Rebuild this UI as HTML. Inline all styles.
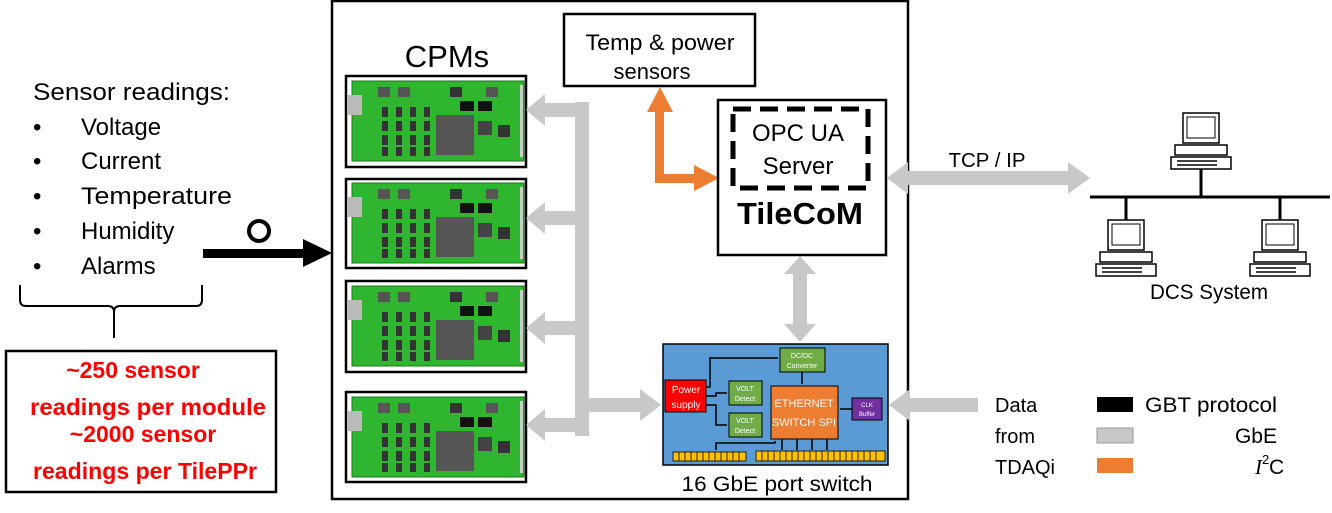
<!DOCTYPE html>
<html><head><meta charset="utf-8"><style>
body{margin:0;background:#fff}
svg{display:block;font-family:"Liberation Sans",sans-serif}
</style></head><body>
<svg width="1332" height="513" viewBox="0 0 1332 513" xmlns="http://www.w3.org/2000/svg">
<defs>
<g id="board">
<rect x="0" y="0" width="172" height="80" fill="#2fb52f" stroke="#1a7a1a" stroke-width="1"/>
<rect x="-4" y="14" width="14" height="20" fill="#bbb"/>
<rect x="26" y="6" width="12" height="10" fill="#555"/><rect x="46" y="6" width="12" height="10" fill="#555"/>
<rect x="98" y="6" width="12" height="10" fill="#333"/><rect x="134" y="6" width="12" height="10" fill="#555"/>
<rect x="108" y="20" width="14" height="10" fill="#111"/><rect x="126" y="20" width="14" height="10" fill="#111"/>
<g fill="#333"><rect x="30" y="26" width="6" height="10"/><rect x="44" y="26" width="6" height="10"/><rect x="58" y="26" width="6" height="10"/><rect x="72" y="26" width="6" height="10"/>
<rect x="30" y="40" width="6" height="10"/><rect x="44" y="40" width="6" height="10"/><rect x="58" y="40" width="6" height="10"/><rect x="72" y="40" width="6" height="10"/>
<rect x="30" y="54" width="6" height="10"/><rect x="44" y="54" width="6" height="10"/><rect x="58" y="54" width="6" height="10"/><rect x="72" y="54" width="6" height="10"/>
<rect x="30" y="66" width="6" height="9"/><rect x="44" y="66" width="6" height="9"/><rect x="58" y="66" width="6" height="9"/><rect x="72" y="66" width="6" height="9"/></g>
<rect x="84" y="34" width="38" height="40" fill="#555"/>
<rect x="126" y="40" width="14" height="14" fill="#444"/><rect x="146" y="44" width="12" height="12" fill="#333"/>
<rect x="168" y="4" width="3" height="72" fill="#ccc"/>
</g>
<g id="pc">
<rect x="12" y="0" width="36" height="30" fill="#fff" stroke="#000" stroke-width="1.5"/>
<rect x="16" y="4" width="28" height="21" fill="#fff" stroke="#000"/>
<rect x="4" y="32" width="52" height="10" fill="#fff" stroke="#000" stroke-width="1.5"/>
<rect x="0" y="44" width="60" height="12" fill="#fff" stroke="#000" stroke-width="1.5"/>
<line x1="6" y1="48" x2="46" y2="48" stroke="#000" stroke-width="1.5"/><line x1="6" y1="52" x2="46" y2="52" stroke="#000" stroke-width="1.5"/>
</g>
</defs>

<g font-size="24" fill="#000">
<text x="33" y="100" textLength="197" lengthAdjust="spacingAndGlyphs">Sensor readings:</text>
<text x="33" y="135">•</text><text x="81" y="135">Voltage</text>
<text x="33" y="169">•</text><text x="81" y="169">Current</text>
<text x="33" y="204">•</text><text x="81" y="204" textLength="151" lengthAdjust="spacingAndGlyphs">Temperature</text>
<text x="33" y="239">•</text><text x="81" y="239">Humidity</text>
<text x="33" y="274">•</text><text x="81" y="274">Alarms</text>
</g>
<path d="M20,285 L20,300 Q20,306 26,306 L108,306 Q114,306 114,312 L114,338 M114,312 Q114,306 120,306 L196,306 Q202,306 202,300 L202,285" fill="none" stroke="#000" stroke-width="2"/>
<rect x="6" y="351" width="270" height="141" fill="#fff" stroke="#000" stroke-width="2.5"/>
<g font-size="23" font-weight="bold" fill="#f00" text-anchor="middle">
<text x="133" y="378">~250 sensor</text>
<text x="148" y="415" textLength="236" lengthAdjust="spacingAndGlyphs">readings per module</text>
<text x="143" y="442">~2000 sensor</text>
<text x="145" y="479" textLength="224" lengthAdjust="spacingAndGlyphs">readings per TilePPr</text>
</g>
<rect x="203" y="249" width="102" height="9" fill="#000"/>
<polygon points="303,239 332,253 303,267" fill="#000"/>
<circle cx="259" cy="231" r="10" fill="none" stroke="#000" stroke-width="4"/>

<rect x="332" y="1" width="576" height="498" fill="none" stroke="#000" stroke-width="2.5"/>
<text x="447" y="67" font-size="31" text-anchor="middle">CPMs</text>
<g fill="#fff" stroke="#000" stroke-width="2.5">
<rect x="346" y="76" width="180" height="91"/><rect x="346" y="179" width="180" height="89"/>
<rect x="346" y="281" width="180" height="91"/><rect x="346" y="392" width="180" height="90"/>
</g>
<use href="#board" x="352" y="81"/><use href="#board" x="352" y="183"/>
<use href="#board" x="352" y="286"/><use href="#board" x="352" y="397"/>

<g fill="#c8c8c8">
<rect x="575" y="102" width="14" height="334"/>
<rect x="544" y="103" width="45" height="14"/><polygon points="545,94 526,110 545,126"/>
<rect x="544" y="211" width="35" height="14"/><polygon points="545,202 526,218 545,234"/>
<rect x="544" y="321" width="35" height="14"/><polygon points="545,312 526,328 545,344"/>
<rect x="544" y="418" width="35" height="14"/><polygon points="545,409 526,425 545,441"/>
<rect x="588" y="398" width="54" height="14"/><polygon points="640,389 661,405 640,421"/>
<rect x="793" y="272" width="14" height="54"/><polygon points="784,274 800,256 816,274"/><polygon points="784,324 800,342 816,324"/>
<rect x="905" y="171" width="166" height="14"/><polygon points="908,162 887,178 908,194"/><polygon points="1068,162 1090,178 1068,194"/>
<rect x="908" y="398" width="70" height="14"/><polygon points="910,389 889,405 910,421"/>
</g>

<rect x="564" y="14" width="191" height="72" fill="#fff" stroke="#000" stroke-width="2.5"/>
<text x="660" y="50" font-size="22" text-anchor="middle" textLength="149" lengthAdjust="spacingAndGlyphs">Temp &amp; power</text>
<text x="652" y="79" font-size="22" text-anchor="middle">sensors</text>
<g fill="#ed7d31">
<rect x="655" y="110" width="9" height="73"/><rect x="655" y="174" width="42" height="9"/>
<polygon points="647,112 660,87 673,112"/><polygon points="694,165 719,178 694,191"/>
</g>
<rect x="718" y="100" width="168" height="155" fill="#fff" stroke="#000" stroke-width="2.5"/>
<rect x="733" y="109" width="135" height="79" fill="none" stroke="#000" stroke-width="5" stroke-dasharray="18,9"/>
<text x="798" y="141" font-size="24" text-anchor="middle">OPC UA</text>
<text x="798" y="174" font-size="24" text-anchor="middle">Server</text>
<text x="800" y="224" font-size="31" font-weight="bold" text-anchor="middle" textLength="126" lengthAdjust="spacingAndGlyphs">TileCoM</text>

<rect x="663" y="344" width="225" height="121" fill="#5b9bd5" stroke="#000" stroke-width="1.5"/>
<rect x="665" y="380" width="41" height="32" fill="#f00" stroke="#000"/>
<text x="686" y="393" font-size="10" fill="#fff" text-anchor="middle">Power</text>
<text x="686" y="408" font-size="10" fill="#fff" text-anchor="middle">supply</text>
<rect x="780" y="348" width="45" height="24" fill="#70ad47" stroke="#000"/>
<text x="802" y="358" font-size="7" fill="#fff" text-anchor="middle">DC/DC</text>
<text x="802" y="368" font-size="7" fill="#fff" text-anchor="middle">Converter</text>
<rect x="729" y="381" width="33" height="24" fill="#70ad47" stroke="#000"/>
<text x="745" y="391" font-size="7" fill="#fff" text-anchor="middle">VOLT</text>
<text x="745" y="401" font-size="7" fill="#fff" text-anchor="middle">Detect</text>
<rect x="729" y="413" width="33" height="24" fill="#70ad47" stroke="#000"/>
<text x="745" y="423" font-size="7" fill="#fff" text-anchor="middle">VOLT</text>
<text x="745" y="433" font-size="7" fill="#fff" text-anchor="middle">Detect</text>
<rect x="771" y="386" width="67" height="53" fill="#ed7d31" stroke="#000"/>
<text x="804" y="407" font-size="11" fill="#fff" text-anchor="middle">ETHERNET</text>
<text x="804" y="426" font-size="11" fill="#fff" text-anchor="middle">SWITCH SPI</text>
<rect x="852" y="398" width="30" height="22" fill="#7030a0" stroke="#000"/>
<text x="867" y="407" font-size="6" fill="#fff" text-anchor="middle">CLK</text>
<text x="867" y="416" font-size="6" fill="#fff" text-anchor="middle">Buffer</text>
<g stroke="#000" stroke-width="1.5" fill="none">
<path d="M706,387 L710,387 L710,358 L778,358"/><path d="M706,396 L716,396 L716,393 L727,393"/>
<path d="M706,405 L716,405 L716,425 L727,425"/><path d="M802,372 L802,384"/><path d="M852,409 L840,409"/>
<path d="M775,441 L775,443 L716,443 L716,450"/>
<path d="M782,439 L782,450 M797,439 L797,450 M812,439 L812,450 M827,439 L827,450"/>
</g>
<g fill="#ffc000" stroke="#000" stroke-width="0.8">
<rect x="673" y="452" width="73" height="9"/><rect x="756" y="451" width="129" height="10"/>
</g>
<g stroke="#000" stroke-width="0.8">
<path d="M679,452v9M685,452v9M691,452v9M697,452v9M703,452v9M709,452v9M715,452v9M721,452v9M727,452v9M733,452v9M739,452v9"/>
<path d="M762,451v10M768,451v10M774,451v10M780,451v10M786,451v10M792,451v10M798,451v10M804,451v10M810,451v10M816,451v10M822,451v10M828,451v10M834,451v10M840,451v10M846,451v10M852,451v10M858,451v10M864,451v10M870,451v10M876,451v10"/>
</g>
<text x="777" y="491" font-size="21" text-anchor="middle" textLength="191" lengthAdjust="spacingAndGlyphs">16 GbE port switch</text>

<text x="987" y="167" font-size="20" text-anchor="middle" textLength="77" lengthAdjust="spacingAndGlyphs">TCP / IP</text>

<line x1="1090" y1="197" x2="1330" y2="197" stroke="#000" stroke-width="3"/>
<line x1="1201" y1="165" x2="1201" y2="197" stroke="#000" stroke-width="3"/>
<line x1="1126" y1="197" x2="1126" y2="220" stroke="#000" stroke-width="3"/>
<line x1="1280" y1="197" x2="1280" y2="220" stroke="#000" stroke-width="3"/>
<use href="#pc" x="1171" y="113"/><use href="#pc" x="1096" y="220"/><use href="#pc" x="1250" y="220"/>
<text x="1209" y="299" font-size="21" text-anchor="middle" textLength="118" lengthAdjust="spacingAndGlyphs">DCS System</text>

<g font-size="20"><text x="995" y="412">Data</text><text x="995" y="443">from</text><text x="995" y="474">TDAQi</text></g>
<rect x="1097" y="397" width="36" height="15" fill="#000"/>
<rect x="1097" y="428" width="36" height="15" fill="#c8c8c8" stroke="#999"/>
<rect x="1097" y="458" width="36" height="15" fill="#ed7d31"/>
<g font-size="21"><text x="1145" y="412" textLength="132" lengthAdjust="spacingAndGlyphs">GBT protocol</text><text x="1277" y="443" text-anchor="end">GbE</text>
<text x="1255" y="474" font-family="Liberation Serif" font-style="italic">I</text><text x="1262" y="464" font-size="13">2</text><text x="1269" y="474">C</text></g>
</svg>
</body></html>
